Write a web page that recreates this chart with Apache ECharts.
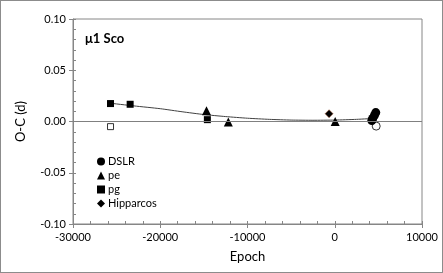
<!DOCTYPE html>
<html><head><meta charset="utf-8">
<script src="https://cdn.jsdelivr.net/npm/echarts@6/dist/echarts.min.js"></script>
<style>html,body{margin:0;padding:0;background:#fff}#c{width:443px;height:273px;box-sizing:border-box;border:1px solid #8c8c8c}</style>
</head><body><div id="c"></div>
<script>
// Data
var dslr = [[4700, 0.0087], [4550, 0.006], [4350, 0.003], [4250, 0.001]];
var dslrOpen = [[4750, -0.0045]];
var pe = [[-14700, 0.0105], [-12200, -0.0005], [50, 0.0]];
var pg = [[-25700, 0.0175], [-23450, 0.0168], [-14600, 0.0018]];
var pgOpen = [[-25700, -0.005]];
var hipparcos = [[-650, 0.0076]];
var fitLine = [[-25700, 0.0178], [-23000, 0.0152], [-20000, 0.0125], [-17500, 0.0095], [-15000, 0.0068], [-12500, 0.0048], [-10000, 0.0032], [-7500, 0.0021], [-5000, 0.0014], [-2500, 0.0012], [0, 0.0014], [2500, 0.0021], [4700, 0.0031]];
var xTicks = [-30000, -20000, -10000, 0, 10000];
var yTicks = [-0.10, -0.05, 0.00, 0.05, 0.10];

var font = 'Lato, "Open Sans", sans-serif';
var chart = echarts.init(document.getElementById('c'), null, {renderer: 'canvas'});
var gridBox = {left: 72, right: 20, top: 18, bottom: 48};
var axisGray = '#868686';
chart.setOption({
  animation: false,
  title: {text: 'μ1 Sco', left: 79, top: 26, textStyle: {fontFamily: font, fontSize: 13, fontWeight: 'bold', color: '#000'}},
  legend: {
    orient: 'vertical', left: 91, top: 150, itemWidth: 8, itemHeight: 8, itemGap: 3,
    data: [{name: 'DSLR', icon: 'circle'}, {name: 'pe', icon: 'triangle'}, {name: 'pg', icon: 'rect'}, {name: 'Hipparcos', icon: 'diamond'}],
    itemStyle: {color: '#000', borderWidth: 0, opacity: 1},
    textStyle: {fontFamily: font, fontSize: 11, color: '#000', padding: [0, 0, 0, -2]}
  },
  grid: Object.assign({show: true, borderColor: axisGray, borderWidth: 1}, gridBox),
  xAxis: [{
    type: 'value', min: xTicks[0], max: xTicks[xTicks.length - 1], interval: 10000,
    name: 'Epoch', nameLocation: 'middle', nameGap: 26,
    nameTextStyle: {fontFamily: font, fontSize: 13, color: '#000'},
    axisLine: {show: true, onZero: false, lineStyle: {color: axisGray}},
    axisTick: {show: true, length: 4, lineStyle: {color: axisGray}},
    axisLabel: {fontFamily: font, fontSize: 11, color: '#000', margin: 8, formatter: function (v) { return String(v); }},
    splitLine: {show: false}
  }, {
    type: 'value', min: xTicks[0], max: xTicks[xTicks.length - 1], interval: 2000, position: 'bottom',
    axisLine: {show: false, onZero: false}, axisLabel: {show: false}, splitLine: {show: false},
    axisTick: {show: true, inside: true, length: 3, lineStyle: {color: axisGray}}
  }],
  yAxis: [{
    type: 'value', min: yTicks[0], max: yTicks[yTicks.length - 1], interval: 0.05,
    name: 'O-C (d)', nameLocation: 'middle', nameGap: 46, nameRotate: 90,
    nameTextStyle: {fontFamily: font, fontSize: 13, color: '#000'},
    axisLine: {show: true, onZero: false, lineStyle: {color: axisGray}},
    axisTick: {show: true, length: 4, lineStyle: {color: axisGray}},
    axisLabel: {fontFamily: font, fontSize: 11, color: '#000', margin: 7, formatter: function (v) { return v.toFixed(2); }},
    splitLine: {show: false}
  }, {
    type: 'value', min: yTicks[0], max: yTicks[yTicks.length - 1], interval: 0.01, position: 'left',
    axisLine: {show: false, onZero: false}, axisLabel: {show: false}, splitLine: {show: false},
    axisTick: {show: true, inside: true, length: 3, lineStyle: {color: axisGray}}
  }],
  series: [
    {name: 'fit', type: 'line', data: fitLine, smooth: 0.2, showSymbol: false, symbol: 'none',
     lineStyle: {color: '#404040', width: 1}, silent: true, z: 1,
     markLine: {silent: true, symbol: 'none', label: {show: false}, lineStyle: {color: '#808080', width: 1, type: 'solid'},
                data: [{yAxis: 0}]}},
    {name: 'DSLR', type: 'scatter', data: dslr, symbol: 'circle', symbolSize: 9, itemStyle: {color: '#000', opacity: 1}, z: 3},
    {name: 'DSLR open', type: 'scatter', data: dslrOpen, symbol: 'circle', symbolSize: 8, itemStyle: {color: '#fff', borderColor: '#000', borderWidth: 0.8, opacity: 1}, z: 2},
    {name: 'pe', type: 'scatter', data: pe, symbol: 'triangle', symbolSize: 9, itemStyle: {color: '#000', opacity: 1}, z: 3},
    {name: 'pg', type: 'scatter', data: pg, symbol: 'rect', symbolSize: 7, itemStyle: {color: '#000', opacity: 1}, z: 3},
    {name: 'pg open', type: 'scatter', data: pgOpen, symbol: 'rect', symbolSize: 6, itemStyle: {color: '#fff', borderColor: '#000', borderWidth: 0.8, opacity: 1}, z: 3},
    {name: 'Hipparcos', type: 'scatter', data: hipparcos, symbol: 'diamond', symbolSize: 8, itemStyle: {color: '#000', borderColor: '#a0522d', borderWidth: 0.5, opacity: 1}, z: 3}
  ]
});
</script></body></html>
